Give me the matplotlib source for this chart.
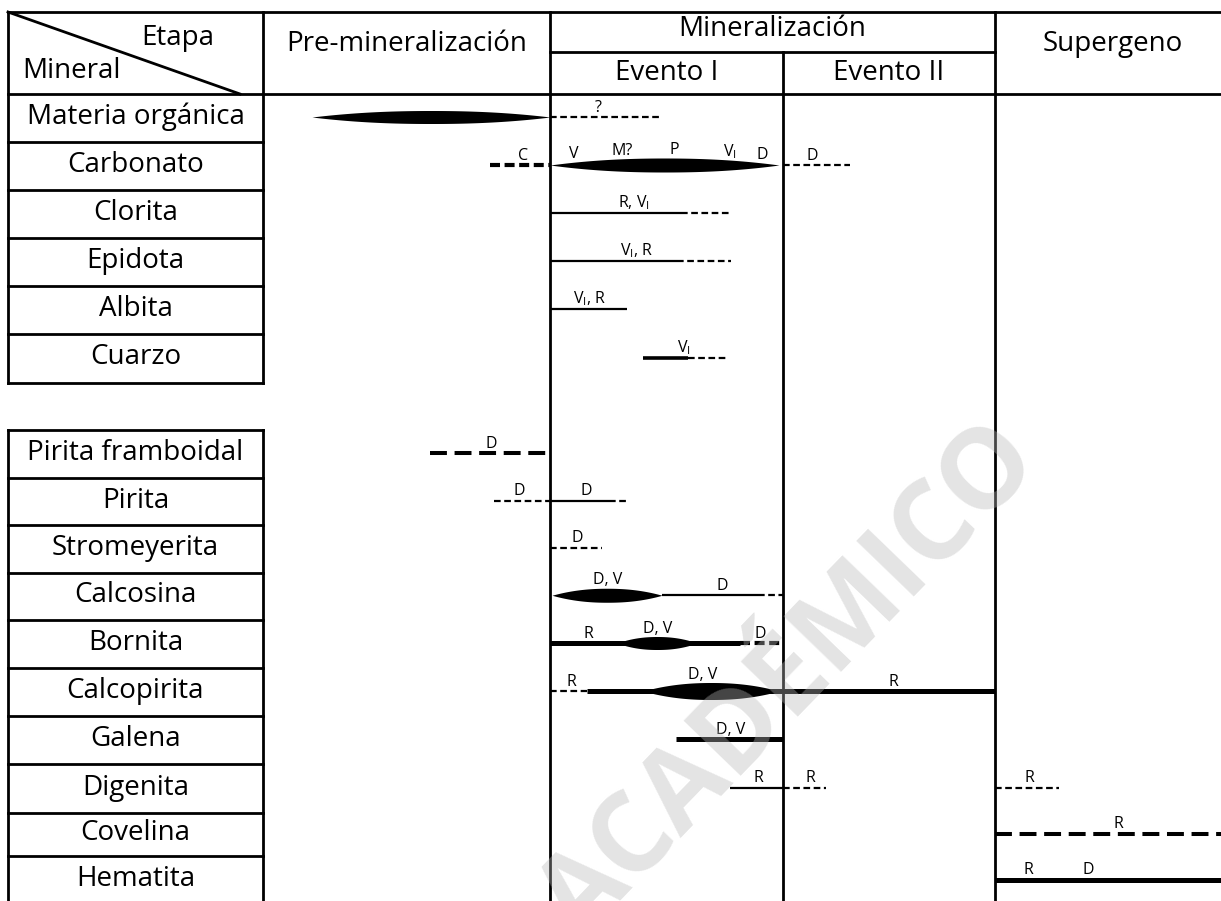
import numpy as np
import matplotlib
matplotlib.use("Agg")
import matplotlib.pyplot as plt

plt.rcParams['font.family'] = ['Open Sans', 'DejaVu Sans']
plt.rcParams['mathtext.fontset'] = 'custom'
plt.rcParams['mathtext.rm'] = 'Open Sans'
plt.rcParams['mathtext.it'] = 'Open Sans'

# ---------------- data ----------------
stages = ["Pre-mineralización", "Mineralización", "Supergeno"]
events = ["Evento I", "Evento II"]
corner_labels = ["Etapa", "Mineral"]

minerals_gangue = ["Materia orgánica", "Carbonato", "Clorita", "Epidota",
                   "Albita", "Cuarzo"]
minerals_ore = ["Pirita framboidal", "Pirita", "Stromeyerita", "Calcosina",
                "Bornita", "Calcopirita", "Galena", "Digenita", "Covelina",
                "Hematita"]

# time axis positions (diagram units): stage boundaries
stage_edges = [263, 550, 783, 995, 1221]

VI = r"V$_{\mathrm{I}}$"

# segments: (start, end, style[, lens thickness])
segments = {
    "Materia orgánica": [(312, 550, "lens", 13), (550, 660, "dash")],
    "Carbonato": [(490, 550, "dashthick"), (550, 779, "lens", 14),
                  (783, 850, "dash")],
    "Clorita": [(550, 681, "thin"), (681, 731, "dash")],
    "Epidota": [(550, 677, "thin"), (677, 731, "dash")],
    "Albita": [(550, 627, "thin")],
    "Cuarzo": [(643, 688, "mid"), (688, 727, "dash")],
    "Pirita framboidal": [(430, 550, "dashlong")],
    "Pirita": [(494, 550, "dash"), (550, 609, "thin"), (609, 627, "dash")],
    "Stromeyerita": [(550, 602, "dash")],
    "Calcosina": [(552, 662, "lens", 14), (662, 758, "thin"), (758, 783, "dash")],
    "Bornita": [(550, 740, "thick"), (617, 697, "lens", 13),
                (740, 783, "dashthick")],
    "Calcopirita": [(550, 587, "dash"), (587, 995, "thick"),
                    (643, 779, "lens", 17)],
    "Galena": [(676, 783, "thick")],
    "Digenita": [(730, 783, "thin"), (783, 826, "dash"), (995, 1059, "dash")],
    "Covelina": [(995, 1221, "dashlong")],
    "Hematita": [(995, 1221, "thick")],
}

# annotations: (x, text)
labels = {
    "Materia orgánica": [(598, "?")],
    "Carbonato": [(523, "C"), (574, "V"), (622, "M?"), (674, "P"),
                  (730, VI), (762, "D"), (812, "D")],
    "Clorita": [(634, "R, " + VI)],
    "Epidota": [(637, VI + ", R")],
    "Albita": [(590, VI + ", R")],
    "Cuarzo": [(684, VI)],
    "Pirita framboidal": [(491, "D")],
    "Pirita": [(519, "D"), (586, "D")],
    "Stromeyerita": [(577, "D")],
    "Calcosina": [(608, "D, V"), (722, "D")],
    "Bornita": [(588, "R"), (658, "D, V"), (760, "D")],
    "Calcopirita": [(571, "R"), (703, "D, V"), (893, "R")],
    "Galena": [(731, "D, V")],
    "Digenita": [(758, "R"), (810, "R"), (1029, "R")],
    "Covelina": [(1118, "R")],
    "Hematita": [(1028, "R"), (1088, "D")],
}

# ---------------- layout ----------------
W, H = 1221, 901
fig = plt.figure(figsize=(W / 100, H / 100), dpi=100)
ax = fig.add_axes([0, 0, 1, 1])
ax.set_xlim(0, W)
ax.set_ylim(H, 0)
ax.axis("off")

K = "black"
LW = 2.0
FS = 20
LFS = 11.5
left = 8
top = 12
head_bot = 94
sub_line = 52
g1_edges = [94, 142, 190, 238, 286, 334, 383]
g2_edges = [430, 478, 525, 572.5, 620, 668, 716, 764, 813, 856, 905]

styles = {
    "thin": dict(lw=1.6, ls="-"),
    "mid": dict(lw=2.6, ls="-"),
    "thick": dict(lw=3.6, ls="-"),
    "dash": dict(lw=1.6, ls=(0, (3.0, 1.6))),
    "dashthick": dict(lw=3.0, ls=(0, (2.4, 1.1))),
    "dashlong": dict(lw=2.9, ls=(0, (4.2, 1.9))),
}

def hl(y, x0, x1, lw=LW):
    ax.plot([x0, x1], [y, y], color=K, lw=lw, solid_capstyle="projecting", zorder=3)

def vl(x, y0, y1, lw=LW):
    ax.plot([x, x], [y0, y1], color=K, lw=lw, solid_capstyle="projecting", zorder=3)

# header frame
hl(top, left, W)
hl(head_bot, left, W)
hl(sub_line, stage_edges[1], stage_edges[3])
vl(left, top, g1_edges[-1])
vl(stage_edges[0], top, g1_edges[-1])
for x in stage_edges[1:4:2]:
    vl(x, top, H)
vl(stage_edges[2], sub_line, H)
ax.plot([left, 240], [top, head_bot], color=K, lw=LW, zorder=3)

ax.text(178, 38, corner_labels[0], fontsize=FS, ha="center", va="center")
ax.text(22, 71, corner_labels[1], fontsize=FS, ha="left", va="center")
ax.text((stage_edges[0] + stage_edges[1]) / 2, 44, stages[0], fontsize=FS,
        ha="center", va="center")
ax.text((stage_edges[1] + stage_edges[3]) / 2, 29, stages[1], fontsize=FS,
        ha="center", va="center")
ax.text((stage_edges[3] + W) / 2 + 5, 44, stages[2], fontsize=FS,
        ha="center", va="center")
ax.text((stage_edges[1] + stage_edges[2]) / 2, 73, events[0], fontsize=FS,
        ha="center", va="center")
ax.text((stage_edges[2] + stage_edges[3]) / 2, 73, events[1], fontsize=FS,
        ha="center", va="center")

# mineral boxes
for y in g1_edges[1:]:
    hl(y, left, stage_edges[0])
for y in g2_edges[:-1]:
    hl(y, left, stage_edges[0])
vl(left, g2_edges[0], H)
vl(stage_edges[0], g2_edges[0], H)

row_y = {}
for names, edges in ((minerals_gangue, g1_edges), (minerals_ore, g2_edges)):
    for i, name in enumerate(names):
        yc = (edges[i] + edges[i + 1]) / 2
        row_y[name] = yc - 1
        ax.text((left + stage_edges[0]) / 2, yc - 1, name, fontsize=FS,
                ha="center", va="center")

def lens_profile(x0, x1, thick, xs):
    u = np.clip(2 * (xs - x0) / (x1 - x0) - 1, -1, 1)
    return thick / 2 * (1 - np.abs(u) ** 2.2)

# marks
for name, segs in segments.items():
    y = row_y[name]
    for seg in segs:
        x0, x1, st = seg[0], seg[1], seg[2]
        if st == "lens":
            xs = np.linspace(x0, x1, 300)
            h = lens_profile(x0, x1, seg[3], xs)
            ax.fill_between(xs, y - h, y + h, color=K, lw=0, zorder=4)
        else:
            s = styles[st]
            ax.plot([x0, x1], [y, y], color=K, lw=s["lw"], ls=s["ls"],
                    solid_capstyle="butt", dash_capstyle="butt", zorder=4)

for name, labs in labels.items():
    y = row_y[name]
    for x, txt in labs:
        half = 1.5
        for seg in segments[name]:
            if seg[2] == "lens" and seg[0] <= x <= seg[1]:
                half = max(half, float(lens_profile(seg[0], seg[1], seg[3],
                                                    np.array([x]))[0]))
        ax.text(x, y - half - 4, txt, fontsize=LFS, ha="center",
                va="baseline", zorder=5)

# watermark
ax.text(790, 683, "ACADÉMICO", fontsize=80, fontweight="bold", rotation=46,
        color="#b8b8b8", alpha=0.38, ha="center", va="center",
        rotation_mode="anchor", zorder=10, clip_on=True)

fig.savefig("out.png", dpi=100)
